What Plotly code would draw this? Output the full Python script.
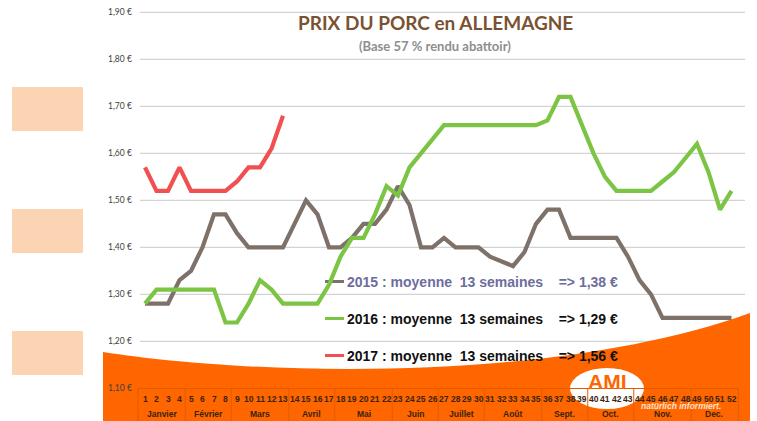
import plotly.graph_objects as go

# ---------------- data ----------------
weeks = list(range(1, 53))
weeks_2017 = list(range(1, 14))

prix_2015 = [1.28, 1.28, 1.28, 1.33, 1.35, 1.40, 1.47, 1.47, 1.43, 1.40, 1.40, 1.40, 1.40,
             1.45, 1.50, 1.47, 1.40, 1.40, 1.42, 1.45, 1.45, 1.48, 1.53, 1.49, 1.40, 1.40,
             1.42, 1.40, 1.40, 1.40, 1.38, 1.37, 1.36, 1.39, 1.45, 1.48, 1.48, 1.42, 1.42,
             1.42, 1.42, 1.42, 1.38, 1.33, 1.30, 1.25, 1.25, 1.25, 1.25, 1.25, 1.25, 1.25]
prix_2016 = [1.28, 1.31, 1.31, 1.31, 1.31, 1.31, 1.31, 1.24, 1.24, 1.28, 1.33, 1.31, 1.28,
             1.28, 1.28, 1.28, 1.32, 1.38, 1.42, 1.42, 1.47, 1.53, 1.51, 1.57, 1.60, 1.63,
             1.66, 1.66, 1.66, 1.66, 1.66, 1.66, 1.66, 1.66, 1.66, 1.67, 1.72, 1.72, 1.66,
             1.60, 1.55, 1.52, 1.52, 1.52, 1.52, 1.54, 1.56, 1.59, 1.62, 1.56, 1.48, 1.52]
prix_2017 = [1.57, 1.52, 1.52, 1.57, 1.52, 1.52, 1.52, 1.52, 1.54, 1.57, 1.57, 1.61, 1.68]

y_ticks = [1.10, 1.20, 1.30, 1.40, 1.50, 1.60, 1.70, 1.80, 1.90]
y_tick_labels = ["1,10 €", "1,20 €", "1,30 €", "1,40 €", "1,50 €", "1,60 €", "1,70 €", "1,80 €", "1,90 €"]

months = ["Janvier", "Février", "Mars", "Avril", "Mai", "Juin", "Juillet", "Août",
          "Sept.", "Oct.", "Nov.", "Dec."]
month_first_week = [1, 5, 9, 14, 18, 23, 27, 31, 36, 40, 44, 49]
month_last_week = [4, 8, 13, 17, 22, 26, 30, 35, 39, 43, 48, 52]

legend_texts = ["2015 : moyenne\u00a0\u00a013 semaines\u00a0\u00a0\u00a0\u00a0=> 1,38 €",
                "2016 : moyenne\u00a0\u00a013 semaines\u00a0\u00a0\u00a0\u00a0=> 1,29 €",
                "2017 : moyenne\u00a0\u00a013 semaines\u00a0\u00a0\u00a0\u00a0=> 1,56 €"]

title_text = "PRIX DU PORC en ALLEMAGNE"
subtitle_text = "(Base 57 % rendu abattoir)"

# ---------------- geometry helpers (pixel layout) ----------------
W, H = 757, 421
X_W1, DX = 145.0, 11.5          # pixel of week 1, pixels per week
Y_190, DY = 12.3, 470.0         # pixel of 1,90 €, pixels per euro


def xdata(px):
    return 1 + (px - X_W1) / DX


def ydata(py):
    return 1.90 - (py - Y_190) / DY


def px_of_val(v):
    return Y_190 + (1.90 - v) * DY


def px_of_week(w):
    return X_W1 + (w - 1) * DX


def xp(px):
    return px / W


def yp(py):
    return 1 - py / H


C_2015 = "#7D7169"
C_2016 = "#7CC444"
C_2017 = "#F0504F"
ORANGE = "#FF6600"

fig = go.Figure()

for wk, vals, col, nm in [(weeks, prix_2015, C_2015, "2015"),
                          (weeks, prix_2016, C_2016, "2016"),
                          (weeks_2017, prix_2017, C_2017, "2017")]:
    fig.add_trace(go.Scatter(x=wk, y=vals, mode="lines", name=nm,
                             line=dict(color=col, width=4.2, shape="linear"),
                             showlegend=False, hoverinfo="skip"))

shapes = []
# peach side boxes
for top in [87, 209, 331]:
    shapes.append(dict(type="rect", xref="paper", yref="paper",
                       x0=xp(12), x1=xp(83), y0=yp(top + 44), y1=yp(top),
                       fillcolor="#FAD4B3", line=dict(width=0), layer="below"))
# gridlines
for v in y_ticks:
    py = px_of_val(v)
    shapes.append(dict(type="line", xref="paper", yref="paper",
                       x0=xp(140), x1=xp(745), y0=yp(py), y1=yp(py),
                       line=dict(color="#C9C9C9", width=1), layer="below"))
# orange curved band
pts = [(103, 352), (250, 375), (550, 385), (750, 313)]
path = "M {:.5f},{:.5f} C {:.5f},{:.5f} {:.5f},{:.5f} {:.5f},{:.5f} L {:.5f},{:.5f} L {:.5f},{:.5f} Z".format(
    xp(pts[0][0]), yp(pts[0][1]), xp(pts[1][0]), yp(pts[1][1]), xp(pts[2][0]), yp(pts[2][1]),
    xp(pts[3][0]), yp(pts[3][1]), xp(750), yp(H), xp(103), yp(H))
shapes.append(dict(type="path", xref="paper", yref="paper", path=path,
                   fillcolor=ORANGE, line=dict(width=0), layer="below"))
# AMI ellipse
shapes.append(dict(type="circle", xref="paper", yref="paper",
                   x0=xp(570), x1=xp(644), y0=yp(409), y1=yp(368),
                   fillcolor="white", line=dict(width=0), layer="below"))
# table lines
tbl_top = 388.5
shapes.append(dict(type="line", xref="paper", yref="paper",
                   x0=xp(px_of_week(0.4)), x1=xp(px_of_week(52.6)), y0=yp(tbl_top), y1=yp(tbl_top),
                   line=dict(color="#E35B00", width=1), layer="below"))
for b in [0.4] + [w + 0.5 for w in month_last_week[:-1]] + [52.6]:
    shapes.append(dict(type="line", xref="paper", yref="paper",
                       x0=xp(px_of_week(b)), x1=xp(px_of_week(b)), y0=yp(tbl_top), y1=yp(H),
                       line=dict(color="#E35B00", width=1), layer="below"))
# legend swatches
leg_y = [281.5, 318.5, 355.5]
for col, py in zip([C_2015, C_2016, C_2017], leg_y):
    shapes.append(dict(type="line", xref="paper", yref="paper",
                       x0=xp(325), x1=xp(344), y0=yp(py), y1=yp(py),
                       line=dict(color=col, width=3), layer="below"))

annotations = []
# title
annotations.append(dict(text="<b>" + title_text + "</b>", x=xp(435), y=yp(23), xref="paper", yref="paper",
                        showarrow=False, xanchor="center", yanchor="middle",
                        font=dict(family="Lato", size=19, color="#7A5232")))
annotations.append(dict(text="<b>" + subtitle_text + "</b>", x=xp(435), y=yp(46), xref="paper", yref="paper",
                        showarrow=False, xanchor="center", yanchor="middle",
                        font=dict(family="Lato", size=13, color="#8E8E8E")))
# y tick labels
for v, lab in zip(y_ticks, y_tick_labels):
    annotations.append(dict(text=lab, x=xp(106), y=yp(px_of_val(v)), xref="paper", yref="paper",
                            showarrow=False, xanchor="left", yanchor="middle",
                            font=dict(family="Lato", size=8.5, color="#404040")))
# AMI logo (drawn before the week labels so they sit on top)
annotations.append(dict(text="<b>AMI</b>", x=xp(607), y=yp(381), xref="paper", yref="paper",
                        showarrow=False, xanchor="center", yanchor="middle",
                        font=dict(family="Liberation Sans", size=21, color=ORANGE)))
# week labels
for w in weeks:
    annotations.append(dict(text="<b>%d</b>" % w, x=w, y=yp(398.5), xref="x", yref="paper",
                            showarrow=False, xanchor="center", yanchor="middle",
                            font=dict(family="Liberation Sans", size=8.5, color="#3A2410")))
# month labels
for m, a, b in zip(months, month_first_week, month_last_week):
    annotations.append(dict(text="<b>" + m + "</b>", x=(a + b) / 2, y=yp(413.5), xref="x", yref="paper",
                            showarrow=False, xanchor="center", yanchor="middle",
                            font=dict(family="Liberation Sans", size=8.5, color="#3A2410")))
# legend texts
for txt, py, col in zip(legend_texts, leg_y, ["#6D6D9D", "#111111", "#111111"]):
    annotations.append(dict(text="<b>" + txt + "</b>", x=xp(345), y=yp(py), xref="paper", yref="paper",
                            showarrow=False, xanchor="left", yanchor="middle",
                            font=dict(family="Liberation Sans", size=14, color=col)))
annotations.append(dict(text="<b><i>natürlich informiert.</i></b>", x=xp(639), y=yp(406), xref="paper", yref="paper",
                        showarrow=False, xanchor="left", yanchor="middle",
                        font=dict(family="Liberation Sans", size=8.5, color="#FFE2CC")))

fig.update_layout(
    width=W, height=H,
    margin=dict(l=0, r=0, t=0, b=0, pad=0),
    paper_bgcolor="white", plot_bgcolor="rgba(0,0,0,0)",
    xaxis=dict(range=[xdata(0), xdata(W)], visible=False, fixedrange=True),
    yaxis=dict(range=[ydata(H), ydata(0)], visible=False, fixedrange=True),
    shapes=shapes, annotations=annotations, showlegend=False,
)

fig.write_html("out.html", config={"displayModeBar": False, "staticPlot": True},
               post_script="document.body.style.margin='0';document.body.style.overflow='hidden';")
